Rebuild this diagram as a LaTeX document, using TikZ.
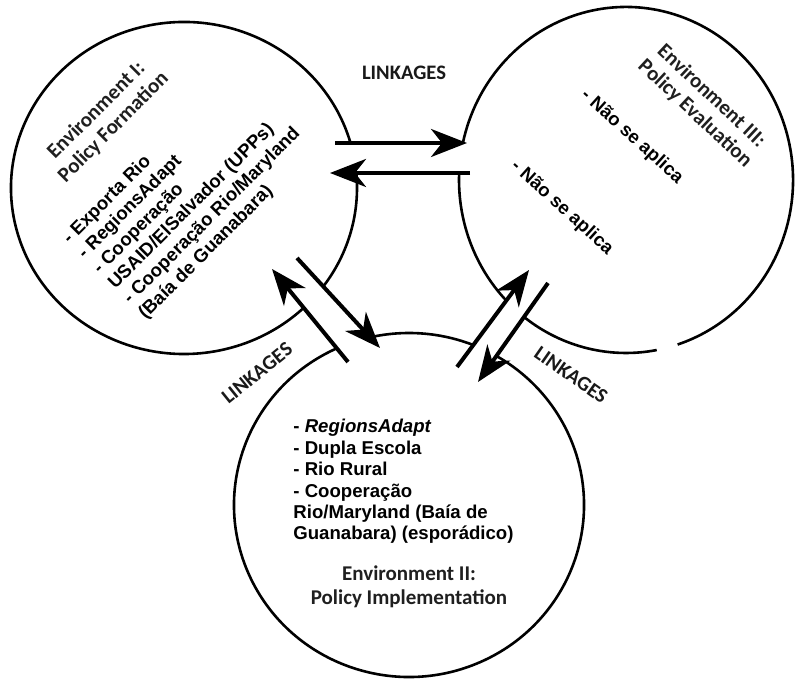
\documentclass[tikz,border=0pt]{standalone}
\usepackage{fontspec}
\setmainfont{Liberation Sans}
\newfontfamily\calibri{Carlito}
\usetikzlibrary{arrows.meta}

\begin{document}
\begin{tikzpicture}[
    x=0.5pt, y=0.5pt,
    env/.style={line width=1.3pt},
    link/.style={line width=2pt, -{Stealth[length=18pt, width=14pt, inset=5.5pt]}},
    title/.style={font=\calibri\bfseries\fontsize{10.5}{12}\selectfont, text=black!88, align=center, inner sep=0pt},
    linklabel/.style={font=\calibri\bfseries\fontsize{10.3}{12}\selectfont, text=black!90, inner sep=0pt},
    items/.style={font=\bfseries\fontsize{9.3}{10.7}\selectfont, align=left, inner sep=0pt}
]
    \useasboundingbox (0,0) rectangle (795,678);

    % Circle centres
    \coordinate (envI) at (184,490);
    \coordinate (envII) at (409,173);
    \coordinate (envIII) at (626,498);

    % Environment I (left), open where the linkages pass
    \draw[env] (envI) ++(-36.35:173 and 166) arc[start angle=-36.35, end angle=5.2, x radius=173, y radius=166];
    \draw[env] (envI) ++(15.73:173 and 166) arc[start angle=15.73, end angle=313.8, x radius=173, y radius=166];

    % Environment II (bottom)
    \draw[env] (envII) ++(68.45:175 and 172) arc[start angle=68.45, end angle=102.7, x radius=175, y radius=172];
    \draw[env] (envII) ++(114.1:175 and 172) arc[start angle=114.1, end angle=420, x radius=175, y radius=172];

    % Environment III (right)
    \draw[env] (envIII) ++(177.7:167 and 173) arc[start angle=177.7, end angle=224.2, x radius=167, y radius=173];
    \draw[env] (envIII) ++(232.8:167 and 173) arc[start angle=232.8, end angle=280.6, x radius=167, y radius=173];
    \draw[env] (envIII) ++(288:167 and 173) arc[start angle=288, end angle=527.65, x radius=167, y radius=173];

    % Linkage end points
    \coordinate (i13a) at (335,535);
    \coordinate (i13b) at (467,535);
    \coordinate (i31a) at (470,505);
    \coordinate (i31b) at (330,505);
    \coordinate (i12a) at (297,420);
    \coordinate (i12b) at (380,330);
    \coordinate (i21a) at (348,316);
    \coordinate (i21b) at (272,409);
    \coordinate (i23a) at (457,311);
    \coordinate (i23b) at (529,408);
    \coordinate (i32a) at (548,395);
    \coordinate (i32b) at (478,296);

    % Arrows
    \draw[link] (i13a) -- (i13b);
    \draw[link] (i31a) -- (i31b);
    \draw[link] (i12a) -- (i12b);
    \draw[link] (i21a) -- (i21b);
    \draw[link] (i23a) -- (i23b);
    \draw[link] (i32a) -- (i32b);

    % Linkage labels
    \node[linklabel] (linkTop) at (404,605) {LINKAGES};
    \node[linklabel, rotate=39] (linkLeft) at (257,305) {LINKAGES};
    \node[linklabel, rotate=-35] (linkRight) at (571,303) {LINKAGES};

    % Environment I texts
    \node[title, rotate=45] (titleI) at (105,559) {Environment I:\\Policy Formation};
    \node[items, rotate=45, anchor=west] (listI) at (104,399) {- Exporta Rio\\- RegionsAdapt\\- Cooperação\\USAID/ElSalvador (UPPs)\\- Cooperação Rio/Maryland\\(Baía de Guanabara)};

    % Environment III texts
    \node[title, rotate=-43] (titleIII) at (703,573) {Environment III:\\Policy Evaluation};
    \node[items, rotate=-42] (listIIIa) at (632,541) {- Não se aplica};
    \node[items, rotate=-42] (listIIIb) at (562,470) {- Não se aplica};

    % Environment II texts
    \node[items, anchor=north west] (listII) at (293,259) {- \textit{RegionsAdapt}\\- Dupla Escola\\- Rio Rural\\- Cooperação\\Rio/Maryland (Baía de\\Guanabara) (esporádico)};
    \node[title] (titleII) at (409,91) {Environment II:\\Policy Implementation};

\end{tikzpicture}
\end{document}
